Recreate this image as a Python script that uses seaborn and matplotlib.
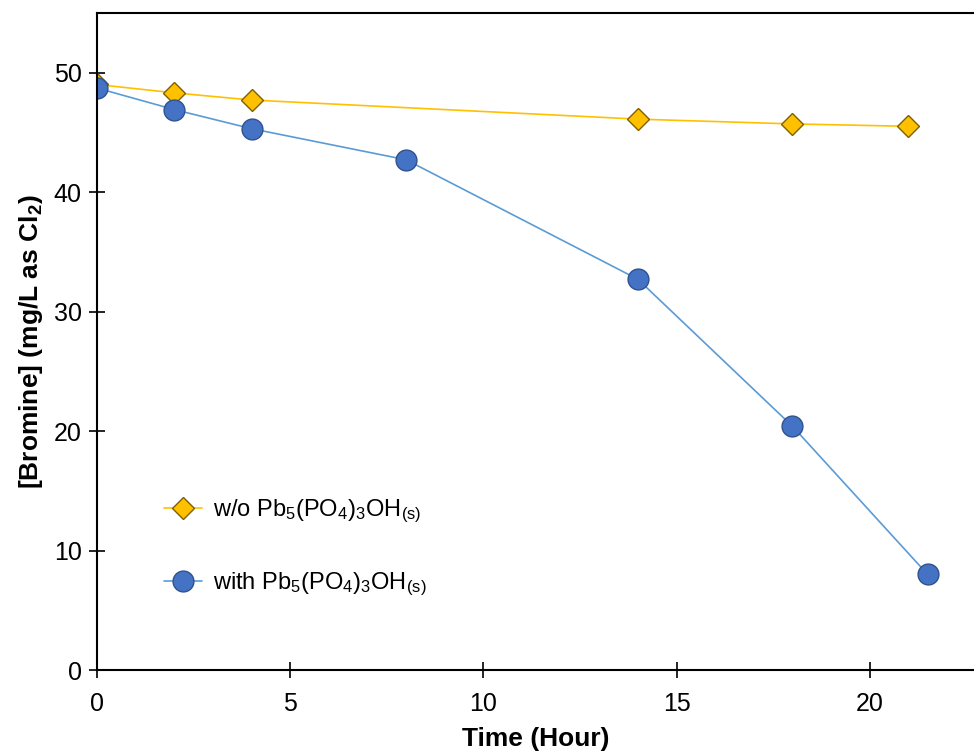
import pandas as pd
import matplotlib
matplotlib.use('Agg')
import matplotlib.pyplot as plt
import seaborn as sns

# data
t_without = [0, 2, 4, 14, 18, 21]
br_without = [49.0, 48.3, 47.7, 46.1, 45.7, 45.5]
t_with = [0, 2, 4, 8, 14, 18, 21.5]
br_with = [48.7, 46.9, 45.3, 42.7, 32.7, 20.4, 8.0]

lab_without = r'w/o Pb$_5$(PO$_4$)$_3$OH$_\mathrm{(s)}$'
lab_with = r'with Pb$_5$(PO$_4$)$_3$OH$_\mathrm{(s)}$'

GOLD = '#FFC000'
GOLD_EDGE = '#7F6000'
BLUE = '#4472C4'
BLUE_EDGE = '#2F528F'
BLUE_LINE = '#5B9BD5'

sns.set_theme(style='white')
plt.rcParams['font.family'] = ['Liberation Sans', 'DejaVu Sans']
plt.rcParams['mathtext.fontset'] = 'custom'
plt.rcParams['mathtext.rm'] = 'Liberation Sans'
plt.rcParams['mathtext.it'] = 'Liberation Sans:italic'
plt.rcParams['mathtext.bf'] = 'Liberation Sans:bold'
plt.rcParams['text.color'] = 'black'
plt.rcParams['axes.labelcolor'] = 'black'
plt.rcParams['xtick.bottom'] = True
plt.rcParams['ytick.left'] = True

df1 = pd.DataFrame({'time': t_without, 'bromine': br_without})
df2 = pd.DataFrame({'time': t_with, 'bromine': br_with})

fig = plt.figure(figsize=(9.74, 7.52), dpi=100)
ax = fig.add_axes([0.0996, 0.109, 0.9004, 0.874])

sns.lineplot(data=df1, x='time', y='bromine', ax=ax, color=GOLD, linewidth=1.2,
             marker='D', markersize=11, markerfacecolor=GOLD,
             markeredgecolor=GOLD_EDGE, markeredgewidth=1.0, label=lab_without)
sns.lineplot(data=df2, x='time', y='bromine', ax=ax, color=BLUE_LINE, linewidth=1.2,
             marker='o', markersize=15, markerfacecolor=BLUE,
             markeredgecolor=BLUE_EDGE, markeredgewidth=1.0, label=lab_with)

ax.set_xlim(0, 22.7)
ax.set_ylim(0, 55)
ax.set_xticks([0, 5, 10, 15, 20])
ax.set_yticks([0, 10, 20, 30, 40, 50])
ax.tick_params(direction='inout', length=12, width=1.2, labelsize=18,
               colors='black', labelcolor='black')
ax.tick_params(axis='x', pad=10)
ax.tick_params(axis='y', pad=5)
for s in ['left', 'bottom', 'top']:
    ax.spines[s].set_color('black')
    ax.spines[s].set_linewidth(1.5)
ax.spines['right'].set_visible(False)

ax.set_xlabel('Time (Hour)', fontsize=19, fontweight='bold', labelpad=8)
ax.set_ylabel(r'[Bromine] (mg/L as Cl$_\mathbf{2}$)', fontsize=19, fontweight='bold', labelpad=6)

ax.legend(loc='upper left', bbox_to_anchor=(0.052, 0.294), frameon=False,
          fontsize=17, handlelength=1.6, labelspacing=1.9, handletextpad=0.5)

fig.savefig('out.png', dpi=100)
